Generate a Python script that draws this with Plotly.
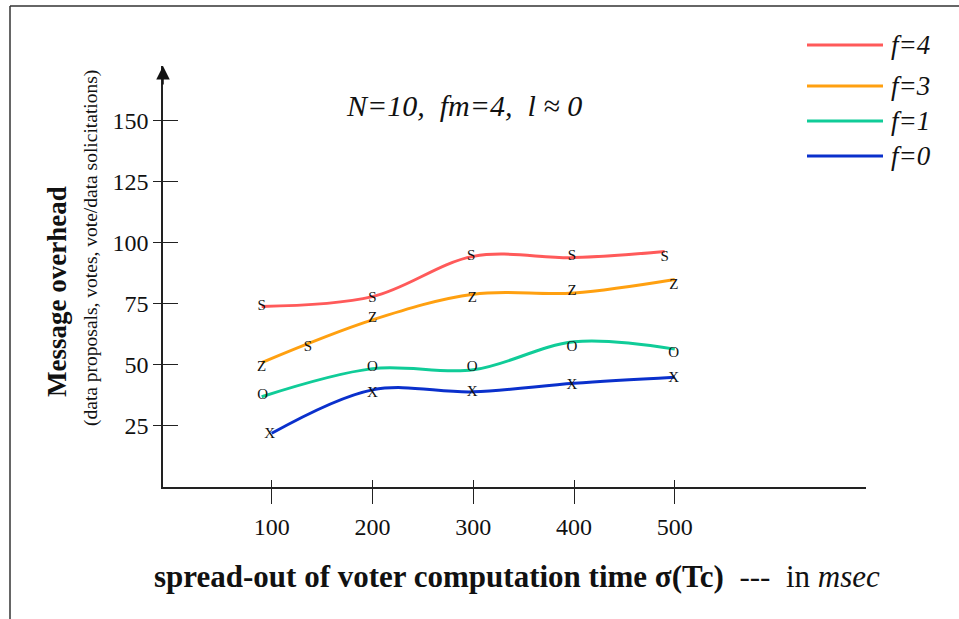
import plotly.graph_objects as go

# ---------------- data ----------------
x_ticks = [100, 200, 300, 400, 500]
y_ticks = [25, 50, 75, 100, 125, 150]

f4_x = [90, 200, 300, 400, 490]
f4_y = [74, 78, 94.5, 94, 96.5]
f3_x = [90, 200, 300, 400, 500]
f3_y = [51, 68.5, 79, 79.5, 85]
f1_x = [90, 200, 300, 400, 500]
f1_y = [37, 48.5, 48, 59.5, 56.5]
f0_x = [100, 200, 300, 400, 500]
f0_y = [22, 39.8, 39, 42.5, 45]

# marker letters (as drawn in the figure)
f4_mx = [90, 200, 298, 398, 490]
f4_my = [74.2, 77.5, 94.7, 94.7, 94.3]
f3_mx = [90, 136, 200, 299, 398, 499]
f3_my = [49.2, 57.4, 69.3, 77.5, 80.3, 82.8]
f3_ml = ["Z", "S", "Z", "Z", "Z", "Z"]
f1_mx = [91, 200, 299, 398, 499]
f1_my = [37.7, 49.2, 49.2, 57.4, 54.9]
f0_mx = [98, 200, 299, 398, 499]
f0_my = [21.7, 38.5, 38.9, 41.8, 44.7]

series_names = ["f=4", "f=3", "f=1", "f=0"]
colors = ["#ff5a5a", "#ffa010", "#10cc98", "#0a30cc"]

# ---------------- layout geometry ----------------
W, H = 959, 619
L, R, T, B = 163, 93, 66, 132
PW, PH = W - L - R, H - T - B
XR = [-7.94, 689.8]
YR = [0, 172.5]

def px(x):
    return (x - L) / PW

def py(y):
    return (H - B - y) / PH

SERIF = "Liberation Serif"
INK = "#222222"

fig = go.Figure()
curves = [(f4_x, f4_y), (f3_x, f3_y), (f1_x, f1_y), (f0_x, f0_y)]
for (xs, ys), name, c in zip(curves, series_names, colors):
    fig.add_trace(go.Scatter(x=xs, y=ys, mode="lines", name=name,
                             line=dict(color=c, width=3, shape="spline", smoothing=1.0),
                             showlegend=False, hoverinfo="skip"))
marks = [(f4_mx, f4_my, ["S"] * len(f4_mx)), (f3_mx, f3_my, f3_ml),
         (f1_mx, f1_my, ["O"] * len(f1_mx)), (f0_mx, f0_my, ["X"] * len(f0_mx))]
for xs, ys, labels in marks:
    fig.add_trace(go.Scatter(x=xs, y=ys, mode="text", text=labels, textposition="middle center",
                             textfont=dict(family=SERIF, size=15, color="#111111"),
                             showlegend=False, hoverinfo="skip"))
# invisible trace for the overlay tick axes
fig.add_trace(go.Scatter(x=[None], y=[None], xaxis="x2", yaxis="y2", showlegend=False))

axis_common = dict(showgrid=False, zeroline=False)
fig.update_layout(
    width=W, height=H, margin=dict(l=L, r=R, t=T, b=B),
    paper_bgcolor="white", plot_bgcolor="white",
    xaxis=dict(range=XR, tickvals=x_ticks, ticktext=[str(v) for v in x_ticks],
               ticks="outside", ticklen=15, tickwidth=1.3, tickcolor=INK,
               showline=True, linecolor=INK, linewidth=1.5,
               tickfont=dict(family=SERIF, size=24, color="#111111"),
               ticklabelstandoff=2, **axis_common),
    yaxis=dict(range=YR, tickvals=y_ticks, ticktext=[str(v) for v in y_ticks],
               ticks="outside", ticklen=8, tickwidth=1.3, tickcolor=INK,
               showline=True, linecolor=INK, linewidth=1.5,
               tickfont=dict(family=SERIF, size=24, color="#111111"),
               ticklabelstandoff=0, **axis_common),
    xaxis2=dict(range=XR, tickvals=x_ticks, overlaying="x", side="bottom", anchor="y2",
                ticks="inside", ticklen=7, tickwidth=1.3, tickcolor=INK,
                showticklabels=False, showline=False, **axis_common),
    yaxis2=dict(range=YR, tickvals=y_ticks, overlaying="y", side="left", anchor="x2",
                ticks="inside", ticklen=15, tickwidth=1.3, tickcolor=INK,
                showticklabels=False, showline=False, **axis_common),
    showlegend=False,
)

ann = []
# axis arrowheads
ann.append(dict(x=XR[1] + 1, y=0, xref="x", yref="y", ax=-20, ay=0, text="",
                showarrow=True, arrowhead=2, arrowsize=1.8, arrowwidth=1.5, arrowcolor="#111111"))
ann.append(dict(x=XR[0], y=YR[1], xref="x", yref="y", ax=0, ay=20, text="",
                showarrow=True, arrowhead=2, arrowsize=1.8, arrowwidth=1.5, arrowcolor="#111111"))
# axis titles
ann.append(dict(x=px(517), y=py(576), xref="paper", yref="paper", showarrow=False,
                text="<b>spread-out of voter computation time σ(Tc)</b>\u00a0\u00a0---\u00a0\u00a0in <i>msec</i>",
                font=dict(family=SERIF, size=31, color="#111111"), xanchor="center", yanchor="middle"))
ann.append(dict(x=px(57), y=py(292), xref="paper", yref="paper", showarrow=False,
                text="<b>Message overhead</b>", textangle=-90,
                font=dict(family=SERIF, size=27, color="#111111"), xanchor="center", yanchor="middle"))
ann.append(dict(x=px(91), y=py(248), xref="paper", yref="paper", showarrow=False,
                text="(data proposals, votes, vote/data solicitations)", textangle=-90,
                font=dict(family=SERIF, size=19.5, color="#111111"), xanchor="center", yanchor="middle"))
# parameter note
ann.append(dict(x=px(464), y=py(105), xref="paper", yref="paper", showarrow=False,
                text="<i>N=10,\u00a0\u00a0fm=4,\u00a0\u00a0l \u2248 0</i>",
                font=dict(family=SERIF, size=30, color="#111111"), xanchor="center", yanchor="middle"))

# manual legend
shapes = []
leg_y = [45, 86, 121, 156]
for name, c, yy in zip(series_names, colors, leg_y):
    shapes.append(dict(type="line", xref="paper", yref="paper",
                       x0=px(807), x1=px(883), y0=py(yy), y1=py(yy), line=dict(color=c, width=3)))
    ann.append(dict(x=px(889), y=py(yy), xref="paper", yref="paper", showarrow=False,
                    text="<i>" + name + "</i>", xanchor="left", yanchor="middle",
                    font=dict(family=SERIF, size=27, color="#111111")))
# outer frame (top and left)
shapes.append(dict(type="line", xref="paper", yref="paper", x0=px(10), x1=px(959), y0=py(6), y1=py(6),
                   line=dict(color="#333333", width=1.5)))
shapes.append(dict(type="line", xref="paper", yref="paper", x0=px(10), x1=px(10), y0=py(6), y1=py(619),
                   line=dict(color="#333333", width=1.5)))

fig.update_layout(annotations=ann, shapes=shapes)
fig.write_html("out.html")
